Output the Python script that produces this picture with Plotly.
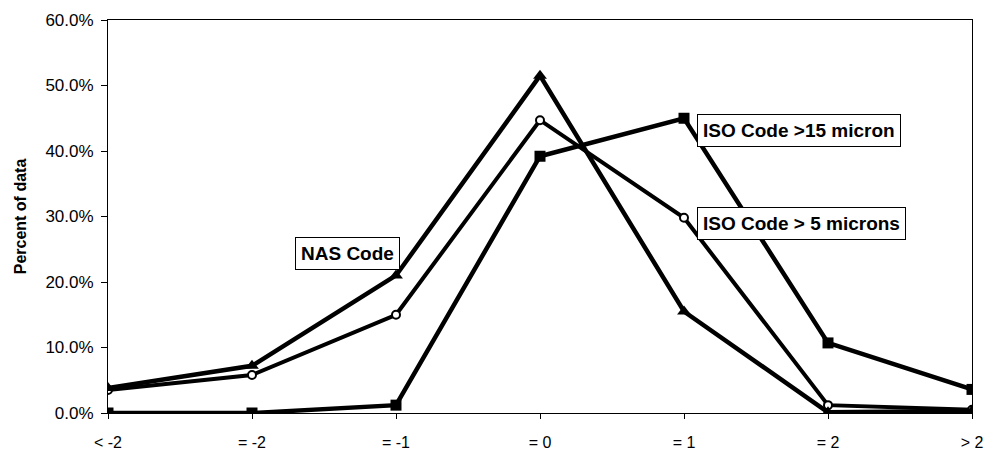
import plotly.graph_objects as go

categories = ["< -2", "= -2", "= -1", "= 0", "= 1", "= 2", "> 2"]
nas_code = [3.8, 7.2, 21.0, 51.5, 15.5, 0.1, 0.3]
iso_5 = [3.5, 5.8, 15.0, 44.7, 29.8, 1.2, 0.5]
iso_15 = [0.0, 0.0, 1.2, 39.2, 45.0, 10.7, 3.6]
y_ticks = [0, 10, 20, 30, 40, 50, 60]
y_tick_text = ["0.0%", "10.0%", "20.0%", "30.0%", "40.0%", "50.0%", "60.0%"]

FONT = "Liberation Sans, Arial, sans-serif"
xs = list(range(len(categories)))

fig = go.Figure()
fig.add_trace(go.Scatter(
    x=xs, y=iso_15, mode="lines+markers", name="ISO Code >15 micron",
    line=dict(color="black", width=4.5),
    marker=dict(symbol="square", size=11, color="black"),
))
fig.add_trace(go.Scatter(
    x=xs, y=iso_5, mode="lines+markers", name="ISO Code > 5 microns",
    line=dict(color="black", width=4),
    marker=dict(symbol="circle", size=8, color="white",
                line=dict(color="black", width=2)),
))
fig.add_trace(go.Scatter(
    x=xs, y=nas_code, mode="lines+markers", name="NAS Code",
    line=dict(color="black", width=4.5),
    marker=dict(symbol="triangle-up", size=12, color="black"),
))

# Boxed series labels
box = dict(showarrow=False, bgcolor="white", bordercolor="black",
           borderwidth=1, borderpad=5,
           font=dict(family=FONT, size=19, color="black"),
           xanchor="left", yanchor="middle")
fig.add_annotation(x=1.30, y=24.4, text="<b>NAS Code</b>", **box)
fig.add_annotation(x=4.09, y=43.2, text="<b>ISO Code >15 micron</b>", **box)
fig.add_annotation(x=4.09, y=28.9, text="<b>ISO Code > 5 microns</b>", **box)

fig.update_layout(
    width=993, height=455,
    margin=dict(l=108, r=21, t=20, b=42),
    paper_bgcolor="white", plot_bgcolor="white",
    showlegend=False,
    font=dict(family=FONT, size=16, color="black"),
)
fig.update_xaxes(
    range=[0, len(categories) - 1],
    tickvals=xs, ticktext=categories,
    showgrid=False, zeroline=False, automargin=False,
    showline=True, linecolor="black", linewidth=1, mirror=True,
    ticks="outside", ticklen=5, tickcolor="black",
    ticklabelstandoff=10,
    tickfont=dict(family=FONT, size=16),
)
fig.update_yaxes(
    range=[0, 60],
    tickvals=y_ticks, ticktext=y_tick_text,
    showgrid=False, zeroline=False, automargin=False,
    showline=True, linecolor="black", linewidth=1, mirror=True,
    ticks="outside", ticklen=6, tickcolor="black",
    ticklabelstandoff=4,
    tickfont=dict(family=FONT, size=17),
    title=dict(text="<b>Percent of data</b>", font=dict(family=FONT, size=16),
               standoff=14),
)

fig.write_html("out.html")
